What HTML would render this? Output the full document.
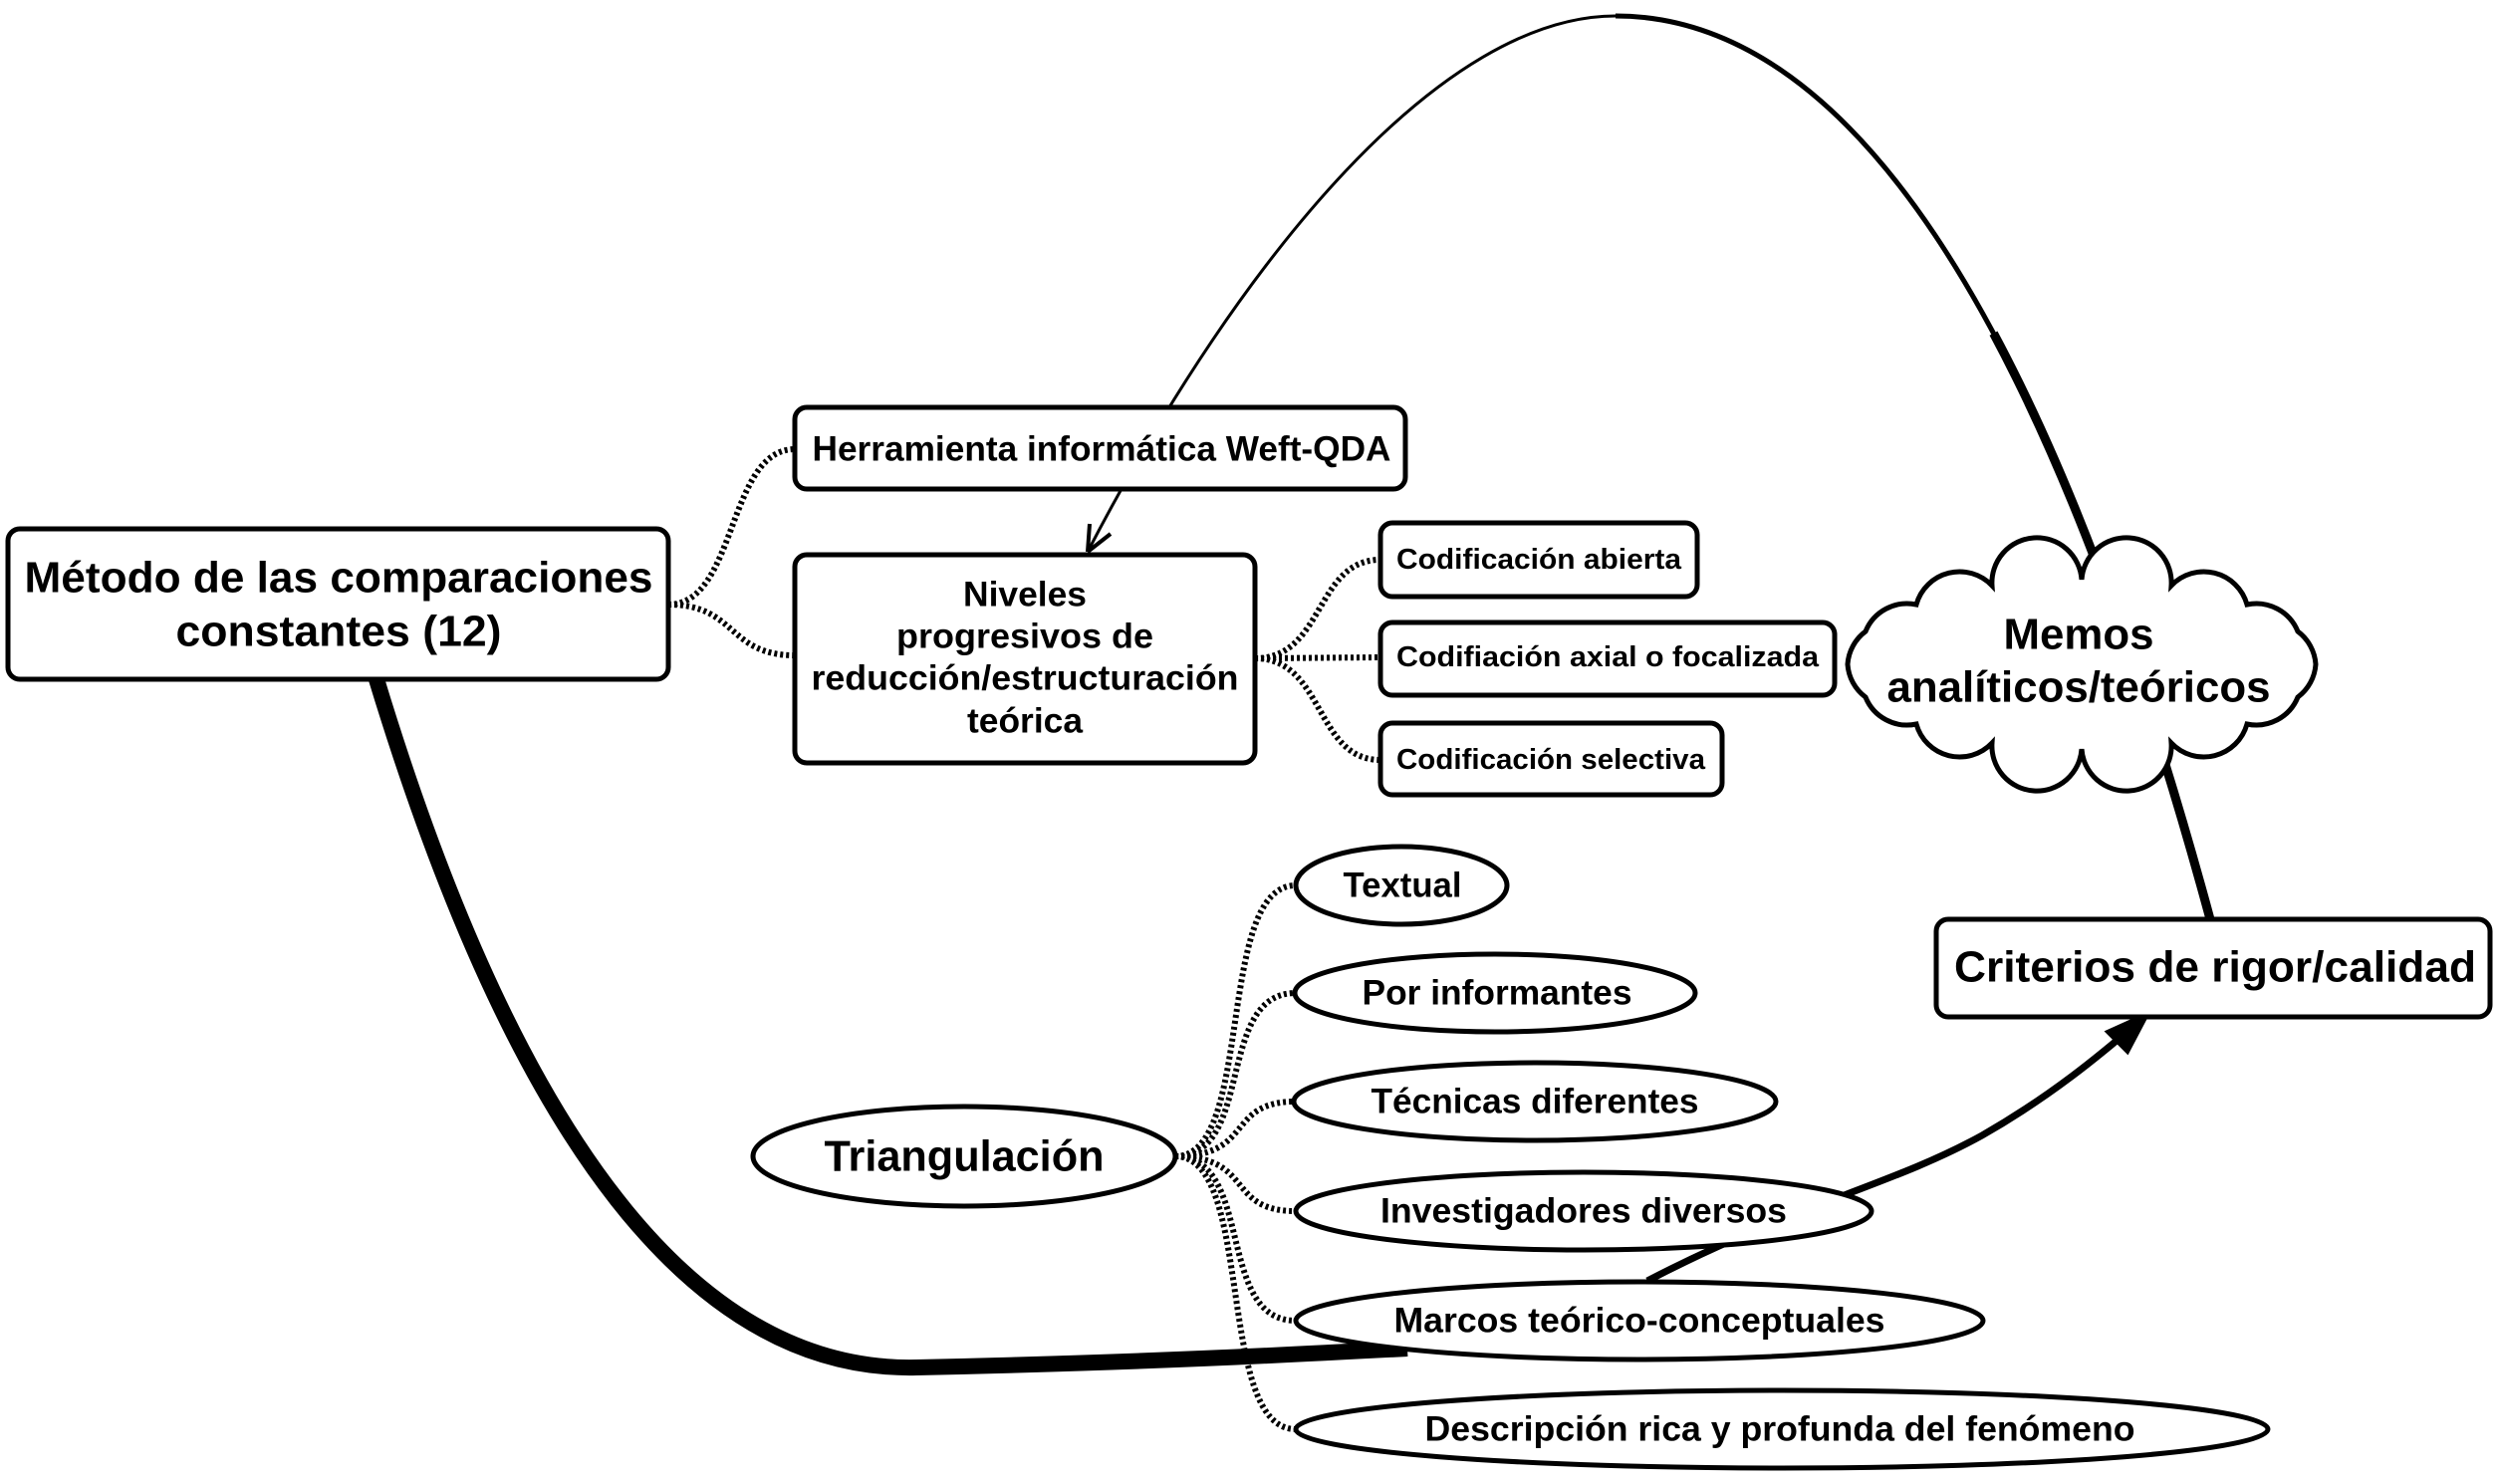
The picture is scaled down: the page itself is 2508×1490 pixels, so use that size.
<!DOCTYPE html>
<html><head><meta charset="utf-8"><style>
html,body{margin:0;padding:0;background:#fff;}
svg{display:block;}
text{font-family:"Liberation Sans",sans-serif;font-weight:bold;fill:#000;}
</style></head><body>
<svg width="2508" height="1490" viewBox="0 0 2508 1490" xmlns="http://www.w3.org/2000/svg">
<!-- big arc -->
<path d="M1092,554 C1250,250 1450,16 1622,16" fill="none" stroke="#000" stroke-width="3"/>
<path d="M1622,16 C1850,16 2050,300 2219,923" fill="none" stroke="#000" stroke-width="5"/>
<path d="M2001.5,334.6 C2078.8,478.8 2151.4,673.8 2219,923" fill="none" stroke="#000" stroke-width="9"/>
<!-- arrowhead into Niveles -->
<path d="M1092,554 L1094,526 M1092,554 L1115,536" stroke="#000" stroke-width="4" fill="none"/>
<!-- thick bottom curve -->
<path d="M378,682 C520,1150 700,1378 920,1373 C1150,1368 1300,1360 1413,1354" fill="none" stroke="#000" stroke-width="16"/>
<!-- arrow to criterios -->
<path d="M1654,1286 C1800,1210 1900,1190 1990,1140 C2060,1100 2110,1058 2145,1028" fill="none" stroke="#000" stroke-width="7"/>
<path d="M2156,1018 L2116,1036 L2136,1056 Z" fill="#000" stroke="#000" stroke-width="4"/>
<!-- dotted connectors -->
<g fill="none" stroke="#000" stroke-width="6" stroke-dasharray="3 3">
<path d="M671,607 C740,607 730,451 798,451"/>
<path d="M671,607 C740,607 730,658 798,658"/>
<path d="M1260,661 C1330,661 1320,562 1386,562"/>
<path d="M1260,661 L1386,660"/>
<path d="M1260,661 C1330,661 1320,763 1386,763"/>
<path d="M1180,1161 C1260,1161 1220,889 1301,889"/>
<path d="M1180,1161 C1260,1161 1220,997 1301,997"/>
<path d="M1180,1161 C1260,1161 1230,1106 1301,1106"/>
<path d="M1180,1161 C1260,1161 1230,1216 1301,1216"/>
<path d="M1180,1161 C1260,1161 1220,1326 1301,1326"/>
<path d="M1180,1161 C1260,1161 1220,1435 1301,1435"/>
</g>
<!-- boxes -->
<g stroke="#000" stroke-width="5" fill="#fff">
<rect x="8" y="531" width="663" height="151" rx="12"/>
<rect x="798" y="409" width="613" height="82" rx="12"/>
<rect x="798" y="557" width="462" height="209" rx="12"/>
<rect x="1386" y="525" width="318" height="74" rx="12"/>
<rect x="1386" y="625" width="456" height="73" rx="12"/>
<rect x="1386" y="726" width="343" height="72" rx="12"/>
<rect x="1944" y="923" width="556" height="98" rx="12"/>
</g>
<!-- cloud -->
<path d="M2325,667 A45,45 0 0 1 2307,700 A45,45 0 0 1 2256,727 A45,45 0 0 1 2180,746 A45,45 0 0 1 2090,752 A45,45 0 0 1 2000,746 A45,45 0 0 1 1924,727 A45,45 0 0 1 1873,700 A45,45 0 0 1 1855,667 A45,45 0 0 1 1873,634 A45,45 0 0 1 1924,607 A45,45 0 0 1 2000,588 A45,45 0 0 1 2090,582 A45,45 0 0 1 2180,588 A45,45 0 0 1 2256,607 A45,45 0 0 1 2307,634 A45,45 0 0 1 2325,667 Z" fill="#fff" stroke="#000" stroke-width="5"/>
<!-- ellipses -->
<g stroke="#000" stroke-width="5" fill="#fff">
<ellipse cx="968" cy="1161" rx="212" ry="50"/>
<ellipse cx="1407" cy="889" rx="106" ry="39"/>
<ellipse cx="1501" cy="997" rx="201" ry="39"/>
<ellipse cx="1541" cy="1106" rx="242" ry="39"/>
<ellipse cx="1590" cy="1216" rx="289" ry="39"/>
<ellipse cx="1646" cy="1326" rx="345" ry="39"/>
<ellipse cx="1789" cy="1435" rx="488" ry="39"/>
</g>
<g text-anchor="middle" dominant-baseline="central">
<text x="340" y="580" font-size="44" textLength="631" lengthAdjust="spacingAndGlyphs">Método de las comparaciones</text>
<text x="340" y="634" font-size="44" textLength="327" lengthAdjust="spacingAndGlyphs">constantes (12)</text>
<text x="1106" y="451" font-size="35" textLength="581" lengthAdjust="spacingAndGlyphs">Herramienta informática Weft-QDA</text>
<text x="1029" y="597" font-size="35" textLength="124" lengthAdjust="spacingAndGlyphs">Niveles</text>
<text x="1029" y="639" font-size="35" textLength="258" lengthAdjust="spacingAndGlyphs">progresivos de</text>
<text x="1029" y="681" font-size="35" textLength="429" lengthAdjust="spacingAndGlyphs">reducción/estructuración</text>
<text x="1029" y="724" font-size="35" textLength="116" lengthAdjust="spacingAndGlyphs">teórica</text>
<text x="1545" y="562" font-size="29" textLength="286" lengthAdjust="spacingAndGlyphs">Codificación abierta</text>
<text x="1614" y="660" font-size="29" textLength="424" lengthAdjust="spacingAndGlyphs">Codifiación axial o focalizada</text>
<text x="1557" y="763" font-size="29" textLength="310" lengthAdjust="spacingAndGlyphs">Codificación selectiva</text>
<text x="2087" y="637" font-size="44" textLength="151" lengthAdjust="spacingAndGlyphs">Memos</text>
<text x="2087" y="690" font-size="44" textLength="385" lengthAdjust="spacingAndGlyphs">analíticos/teóricos</text>
<text x="2224" y="971" font-size="44" textLength="524" lengthAdjust="spacingAndGlyphs">Criterios de rigor/calidad</text>
<text x="968" y="1161" font-size="44" textLength="281" lengthAdjust="spacingAndGlyphs">Triangulación</text>
<text x="1408" y="889" font-size="35" textLength="119" lengthAdjust="spacingAndGlyphs">Textual</text>
<text x="1503" y="997" font-size="35" textLength="271" lengthAdjust="spacingAndGlyphs">Por informantes</text>
<text x="1541" y="1106" font-size="35" textLength="329" lengthAdjust="spacingAndGlyphs">Técnicas diferentes</text>
<text x="1590" y="1216" font-size="35" textLength="408" lengthAdjust="spacingAndGlyphs">Investigadores diversos</text>
<text x="1646" y="1326" font-size="35" textLength="493" lengthAdjust="spacingAndGlyphs">Marcos teórico-conceptuales</text>
<text x="1787" y="1435" font-size="35" textLength="713" lengthAdjust="spacingAndGlyphs">Descripción rica y profunda del fenómeno</text>
</g>
</svg>
</body></html>
